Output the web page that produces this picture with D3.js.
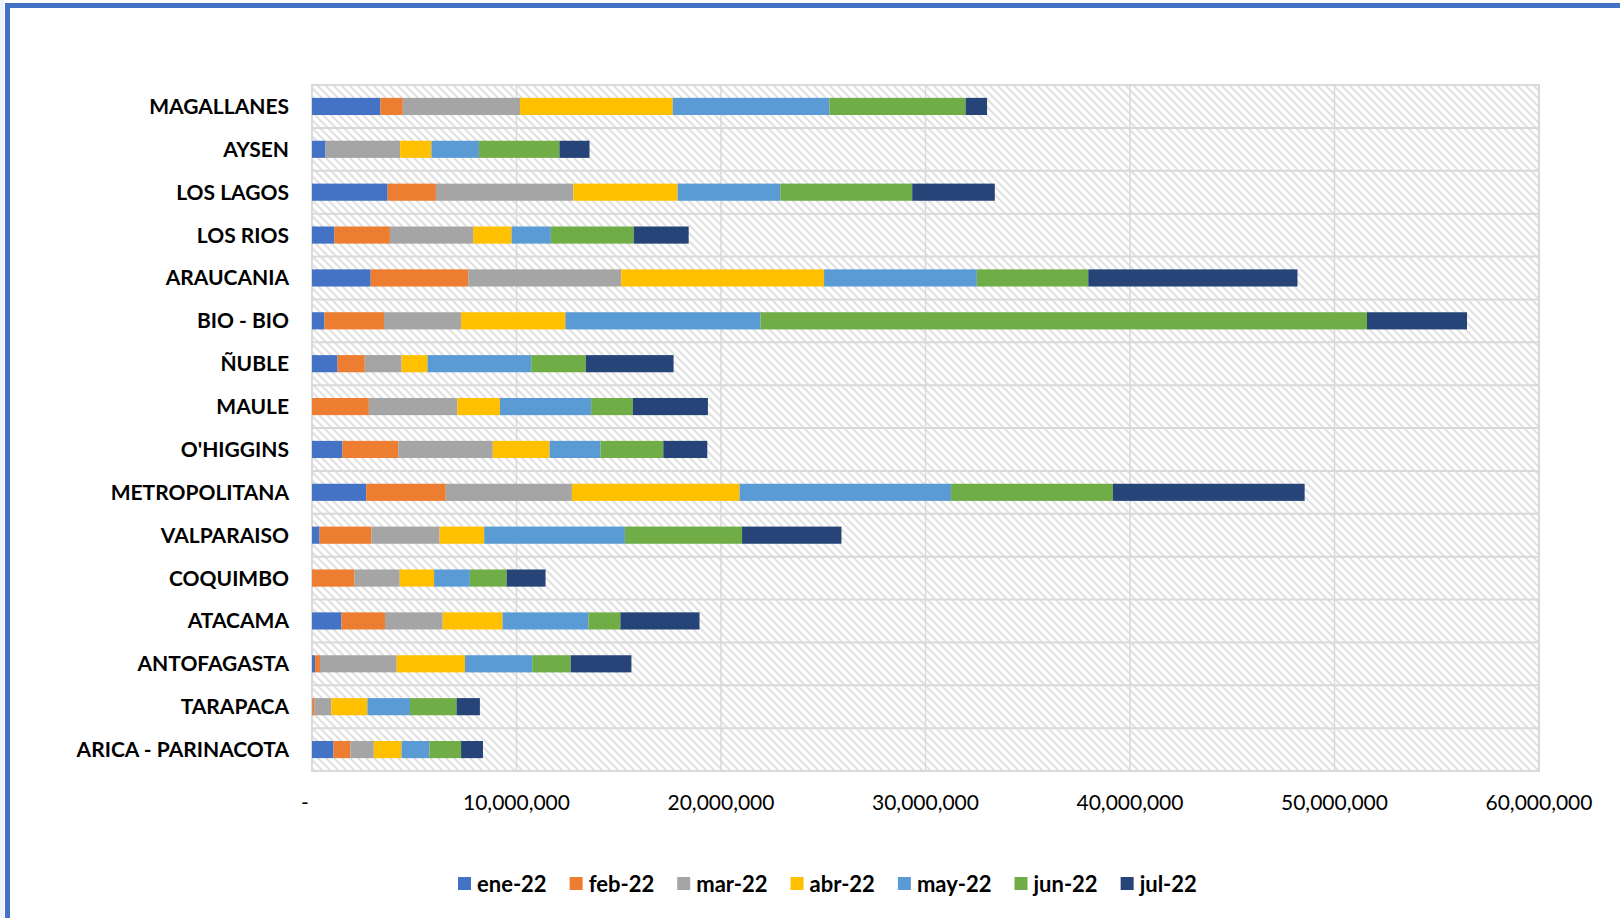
<!DOCTYPE html>
<html>
<head>
<meta charset="utf-8">
<title>Regiones por mes</title>
<style>
body { margin: 0; background: #fff; }
svg { display: block; }
.cat { font: bold 21px Lato, "Open Sans", sans-serif; fill: #000; }
.tick-x { font: 21px Lato, "Open Sans", sans-serif; fill: #000; }
.leg { font: bold 22px Lato, "Open Sans", sans-serif; fill: #000; }
</style>
</head>
<body>
<svg width="1620" height="918"></svg>
<script src="https://cdn.jsdelivr.net/npm/d3@7"></script>
<script>

// regions, top to bottom as drawn
var regions = ["MAGALLANES", "AYSEN", "LOS LAGOS", "LOS RIOS", "ARAUCANIA", "BIO - BIO", "ÑUBLE",
  "MAULE", "O'HIGGINS", "METROPOLITANA", "VALPARAISO", "COQUIMBO", "ATACAMA", "ANTOFAGASTA",
  "TARAPACA", "ARICA - PARINACOTA"];

var months = ["ene-22", "feb-22", "mar-22", "abr-22", "may-22", "jun-22", "jul-22"];
var colors = ["#4472C4", "#ED7D31", "#A5A5A5", "#FFC000", "#5B9BD5", "#70AD47", "#264478"];

// values per month, same order as regions
var ene22 = [3350000, 660000, 3700000, 1090000, 2870000, 610000, 1250000, 0, 1490000, 2650000, 370000, 0, 1440000, 150000, 20000, 1050000];
var feb22 = [1090000, 0, 2360000, 2720000, 4770000, 2910000, 1330000, 2780000, 2730000, 3890000, 2540000, 2080000, 2130000, 240000, 110000, 830000];
var mar22 = [5730000, 3650000, 6720000, 4070000, 7480000, 3770000, 1800000, 4330000, 4620000, 6170000, 3330000, 2210000, 2820000, 3750000, 810000, 1140000];
var abr22 = [7470000, 1530000, 5100000, 1880000, 9920000, 5100000, 1270000, 2080000, 2780000, 8200000, 2180000, 1680000, 2930000, 3340000, 1770000, 1360000];
var may22 = [7660000, 2320000, 5020000, 1920000, 7470000, 9540000, 5070000, 4460000, 2490000, 10340000, 6880000, 1750000, 4200000, 3290000, 2080000, 1360000];
var jun22 = [6660000, 3940000, 6450000, 4050000, 5450000, 29660000, 2670000, 2040000, 3070000, 7910000, 5730000, 1800000, 1560000, 1880000, 2280000, 1550000];
var jul22 = [1050000, 1470000, 4040000, 2690000, 10230000, 4890000, 4290000, 3670000, 2150000, 9380000, 4860000, 1900000, 3870000, 2970000, 1140000, 1070000];

var xTicks = [0, 10000000, 20000000, 30000000, 40000000, 50000000, 60000000];

var series = [ene22, feb22, mar22, abr22, may22, jun22, jul22];
var data = regions.map(function(r, i) {
  var row = { region: r };
  months.forEach(function(m, j) { row[m] = series[j][i]; });
  return row;
});

var svg = d3.select("svg"),
    margin = {top: 85, left: 312, right: 81, bottom: 147},
    width = 1620 - margin.left - margin.right,
    height = 918 - margin.top - margin.bottom;

// frame
svg.append("rect").attr("x", 0).attr("y", 0).attr("width", 4).attr("height", 918).attr("fill", "#eef2fa");
svg.append("path")
  .attr("d", "M7.5,918 V5.5 H1620")
  .attr("fill", "none")
  .attr("stroke", "#4472C4")
  .attr("stroke-width", 5);

var defs = svg.append("defs");
var pat = defs.append("pattern")
  .attr("id", "hatch")
  .attr("patternUnits", "userSpaceOnUse")
  .attr("width", 8).attr("height", 8);
pat.append("rect").attr("width", 8).attr("height", 8).attr("fill", "#fff");
pat.append("path")
  .attr("d", "M-2,-2 L10,10 M-2,6 L2,10 M6,-2 L10,2")
  .attr("stroke", "#e0e0e0")
  .attr("stroke-width", 2);

var x = d3.scaleLinear().domain([0, 60000000]).range([margin.left, margin.left + width]);
var y = d3.scaleBand().domain(regions).range([margin.top, margin.top + height])
  .paddingInner(0.6).paddingOuter(0.3);
var z = d3.scaleOrdinal().domain(months).range(colors);

var g = svg.append("g");

g.append("rect")
  .attr("x", margin.left).attr("y", margin.top)
  .attr("width", width).attr("height", height)
  .attr("fill", "url(#hatch)");

// vertical gridlines
g.selectAll(".vgrid")
  .data(xTicks.slice(1, -1))
  .enter().append("line")
  .attr("x1", function(d) { return x(d); }).attr("x2", function(d) { return x(d); })
  .attr("y1", margin.top).attr("y2", margin.top + height)
  .attr("stroke", "#d9d9d9").attr("stroke-width", 1.5);

// row dividers
var step = y.step();
g.selectAll(".hgrid")
  .data(d3.range(regions.length + 1))
  .enter().append("line")
  .attr("x1", margin.left).attr("x2", margin.left + width)
  .attr("y1", function(i) { return margin.top + i * step; })
  .attr("y2", function(i) { return margin.top + i * step; })
  .attr("stroke", "#d9d9d9").attr("stroke-width", 2);

g.append("rect")
  .attr("x", margin.left).attr("y", margin.top)
  .attr("width", width).attr("height", height)
  .attr("fill", "none").attr("stroke", "#d9d9d9").attr("stroke-width", 2);

// stacked bars
g.append("g")
  .selectAll("g")
  .data(d3.stack().keys(months)(data))
  .enter().append("g")
    .attr("fill", function(d) { return z(d.key); })
  .selectAll("rect")
  .data(function(d) { return d; })
  .enter().append("rect")
    .attr("x", function(d) { return x(d[0]); })
    .attr("y", function(d) { return y(d.data.region); })
    .attr("width", function(d) { return x(d[1]) - x(d[0]); })
    .attr("height", y.bandwidth());

// category labels
g.selectAll(".cat")
  .data(regions)
  .enter().append("text")
  .attr("class", "cat")
  .attr("x", margin.left - 23)
  .attr("y", function(d) { return y(d) + y.bandwidth() / 2; })
  .attr("dy", "0.36em")
  .attr("text-anchor", "end")
  .text(function(d) { return d; });

// x tick labels
var fmt = d3.format(",");
g.selectAll(".tick-x")
  .data(xTicks)
  .enter().append("text")
  .attr("class", "tick-x")
  .attr("x", function(d) { return d === 0 ? x(d) - 7 : x(d); })
  .attr("y", 810)
  .attr("text-anchor", "middle")
  .text(function(d) { return d === 0 ? "-" : fmt(d); });

// legend
var legend = svg.append("g").attr("transform", "translate(458,884)");
var lx = 0;
months.forEach(function(m) {
  var item = legend.append("g").attr("transform", "translate(" + lx + ",0)");
  item.append("rect").attr("x", 0).attr("y", -7).attr("width", 13).attr("height", 13).attr("fill", z(m));
  var t = item.append("text").attr("class", "leg").attr("x", 19).attr("y", 0).attr("dy", "0.36em").text(m);
  lx += 19 + t.node().getComputedTextLength() + 23;
});

</script>
</body>
</html>
